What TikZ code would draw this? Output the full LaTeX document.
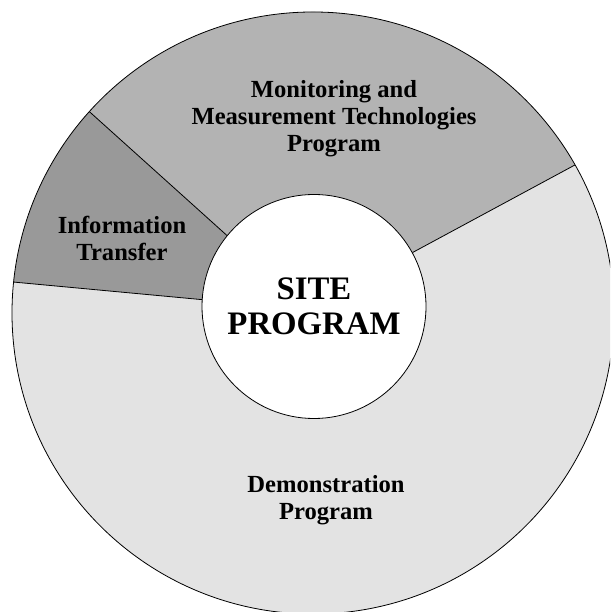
\documentclass[tikz,border=0pt]{standalone}
\usepackage{fontspec}
\setmainfont{Liberation Serif}
\begin{document}
\begin{tikzpicture}[x=1pt,y=1pt,
  seglabel/.style={align=center,font=\bfseries\fontsize{24.6}{27}\selectfont,inner sep=0pt},
  hub/.style={circle,draw=black,line width=0.8pt,fill=white,minimum size=224pt,inner sep=0pt,align=center,font=\bfseries\fontsize{32.8}{35}\selectfont},
  divider/.style={draw=black,line width=0.8pt}]
\definecolor{demogray}{HTML}{E3E3E3}
\definecolor{mongray}{HTML}{B3B3B3}
\definecolor{infogray}{HTML}{999999}
\useasboundingbox (0,0) rectangle (610,612);
\clip (0,0) rectangle (610,612);
\coordinate (oc) at (313,299);
\coordinate (ic) at (314,305.5);
\coordinate (oA) at ([shift={(oc)}]138:301);
\coordinate (oB) at ([shift={(oc)}]29.47:301);
\coordinate (oC) at ([shift={(oc)}]174.1:301);
\coordinate (iA) at ([shift={(ic)}]140.8:112);
\coordinate (iB) at ([shift={(ic)}]28.7:112);
\coordinate (iC) at ([shift={(ic)}]176.5:112);
% outer disc (Demonstration)
\fill[demogray] (oc) circle[radius=301];
% Monitoring sector
\fill[mongray] (iA) -- (oA) arc[start angle=138, end angle=29.47, radius=301] -- (iB) -- (ic) -- cycle;
% Information Transfer sector
\fill[infogray] (iC) -- (oC) arc[start angle=174.1, end angle=138, radius=301] -- (iA) -- (ic) -- cycle;
\draw[line width=0.8pt] (oc) circle[radius=301];
\draw[divider] (oA) -- (iA);
\draw[divider] (oB) -- (iB);
\draw[divider] (oC) -- (iC);
\node[hub] (site) at (ic) {SITE\\PROGRAM};
\node[seglabel] (mon) at (334,493) {Monitoring and\\Measurement Technologies\\Program};
\node[seglabel] (info) at (122,374) {Information\\Transfer};
\node[seglabel] (demo) at (326,112) {Demonstration\\Program};
\end{tikzpicture}
\end{document}
